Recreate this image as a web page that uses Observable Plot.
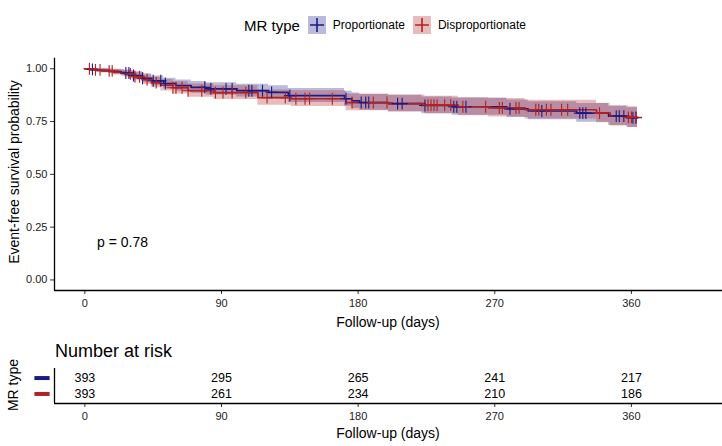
<!DOCTYPE html>
<html><head><meta charset="utf-8">
<script src="https://cdn.jsdelivr.net/npm/d3@7"></script>
<script src="https://cdn.jsdelivr.net/npm/@observablehq/plot@0.6"></script>
<style>
body{margin:0;background:#fff;font-family:"Liberation Sans",Arial,sans-serif;color:#000;}
#wrap{position:relative;width:722px;height:446px;overflow:hidden;background:#fff;}
.abs{position:absolute;white-space:nowrap;}
.c{transform:translate(-50%,-50%);}
.r{transform:translate(-50%,-50%) rotate(-90deg);}
#legend{position:absolute;left:244px;top:14px;display:flex;align-items:center;height:22px;}
.key{display:inline-block;margin-left:8px;margin-right:7px;}
</style></head><body><div id="wrap"></div>
<script>
const groups = ["Proportionate", "Disproportionate"];
const colors = ["#1a1a85", "#b22222"];

const propTime  = [0,3,8,16,24,31,38,44,52,60,70,80,100,121,134,171,176,181,200,222,242,278,292,324,345,357];
const propSurv  = [1,0.997,0.992,0.987,0.98,0.968,0.955,0.943,0.93,0.92,0.912,0.905,0.896,0.888,0.873,0.858,0.848,0.84,0.835,0.826,0.82,0.81,0.80,0.79,0.776,0.768];
const propLower = [1,0.991,0.983,0.976,0.966,0.950,0.934,0.920,0.905,0.893,0.884,0.876,0.866,0.857,0.840,0.823,0.812,0.803,0.797,0.787,0.780,0.769,0.758,0.747,0.731,0.722];
const propUpper = [1,1,1,0.998,0.994,0.986,0.976,0.966,0.955,0.947,0.940,0.934,0.927,0.920,0.907,0.894,0.885,0.878,0.874,0.866,0.861,0.852,0.844,0.835,0.822,0.815];
const propCensor = [5,27,29,32,38,45,50,53,79,83,93,97,108,110,117,123,135,172,182,185,187,206,209,224,243,245,251,280,301,326,328,330,350,352,355,361,363];

const dispTime  = [0,4,11,19,26,33,39,44,50,58,68,85,114,136,172,200,224,246,266,290,337,346,358];
const dispSurv  = [1,0.995,0.99,0.983,0.976,0.962,0.948,0.934,0.922,0.91,0.896,0.887,0.863,0.858,0.84,0.835,0.828,0.82,0.815,0.806,0.79,0.776,0.77];
const dispLower = [1,0.988,0.980,0.970,0.961,0.943,0.926,0.910,0.895,0.881,0.865,0.854,0.827,0.821,0.801,0.795,0.787,0.778,0.772,0.762,0.744,0.729,0.722];
const dispUpper = [1,1,1,0.996,0.991,0.981,0.970,0.959,0.949,0.939,0.928,0.920,0.900,0.896,0.881,0.876,0.870,0.863,0.859,0.851,0.837,0.825,0.820];
const dispCensor = [3,7,10,16,18,30,33,36,41,47,58,60,64,68,77,86,91,97,106,120,132,139,145,148,163,176,190,199,226,228,230,232,237,241,249,264,273,275,284,286,297,299,304,307,314,318,339,358,360,363];

const endTime = 364;
const riskTimes = [0, 90, 180, 270, 360];
const propRisk = [393, 295, 265, 241, 217];
const dispRisk = [393, 261, 234, 210, 186];
const xTicks = [0, 90, 180, 270, 360];
const yTicks = [0, 0.25, 0.5, 0.75, 1];
const xDomain = [-20, 420];
const yDomain = [-0.05, 1.05];
const pText = "p = 0.78";
const pAt = {t: 8, s: 0.177};

const series = [
  {group: groups[0], time: propTime, surv: propSurv, lo: propLower, hi: propUpper, cens: propCensor, risk: propRisk},
  {group: groups[1], time: dispTime, surv: dispSurv, lo: dispLower, hi: dispUpper, cens: dispCensor, risk: dispRisk}
];

const curveRows = [], censorRows = [], riskRows = [];
series.forEach((S, gi) => {
  S.time.forEach((t, i) => curveRows.push({group: S.group, t, s: S.surv[i], lo: S.lo[i], hi: S.hi[i]}));
  const last = S.time.length - 1;
  curveRows.push({group: S.group, t: endTime, s: S.surv[last], lo: S.lo[last], hi: S.hi[last]});
  S.cens.forEach(t => {
    let k = 0;
    for (let i = 0; i < S.time.length; i++) if (S.time[i] <= t) k = i;
    censorRows.push({group: S.group, t, s: S.surv[k]});
  });
  riskTimes.forEach((t, i) => riskRows.push({group: S.group, row: gi, t, n: S.risk[i]}));
});

// wide flat bar symbol for the risk-table strata keys
const barSymbol = {draw(ctx, size) { const r = Math.sqrt(size / Math.PI); ctx.rect(-1.9 * r, -0.5 * r, 3.8 * r, r); }};

const font = "Liberation Sans, Arial, sans-serif";
const wrap = document.getElementById("wrap");

const main = Plot.plot({
  width: 722, height: 340,
  marginLeft: 54, marginRight: 0, marginTop: 57.7, marginBottom: 50,
  style: {fontFamily: font, fontSize: "11px", color: "#222", background: "transparent"},
  x: {domain: xDomain},
  y: {domain: yDomain},
  color: {domain: groups, range: colors},
  marks: [
    Plot.areaY(curveRows, {x: "t", y1: "lo", y2: "hi", fill: "group", fillOpacity: 0.3, curve: "step-after"}),
    Plot.line(curveRows, {x: "t", y: "s", stroke: "group", strokeWidth: 1.7, curve: "step-after"}),
    Plot.dot(censorRows, {x: "t", y: "s", stroke: "group", symbol: "plus", r: 3.9, strokeWidth: 1.1}),
    Plot.text([pText], {x: pAt.t, y: pAt.s, text: d => d, textAnchor: "start", fontSize: 14, fill: "#000"}),
    Plot.axisX({ticks: xTicks, tickSize: 4, tickPadding: 5, label: null, stroke: "#333"}),
    Plot.axisY({ticks: yTicks, tickFormat: d3.format(".2f"), tickSize: 4, tickPadding: 3, label: null, stroke: "#333"}),
    Plot.ruleX([xDomain[0]], {stroke: "#000", strokeWidth: 1.3}),
    Plot.ruleY([yDomain[0]], {stroke: "#000", strokeWidth: 1.3})
  ]
});
main.style.position = "absolute"; main.style.left = "0px"; main.style.top = "0px";
wrap.appendChild(main);

const risk = Plot.plot({
  width: 722, height: 106,
  marginLeft: 54, marginRight: 0, marginTop: 28, marginBottom: 43,
  style: {fontFamily: font, fontSize: "11px", color: "#222", background: "transparent"},
  x: {domain: xDomain},
  y: {domain: [1.6, -0.6], axis: null},
  color: {domain: groups, range: colors},
  marks: [
    Plot.text(riskRows, {x: "t", y: "row", text: d => String(d.n), fontSize: 12.5, fill: "#000"}),
    Plot.dot(groups, {frameAnchor: "left", y: (d, i) => i, dx: -12.5, symbol: barSymbol, r: 4, fill: d => d, stroke: "none"}),
    Plot.axisX({ticks: xTicks, tickSize: 4, tickPadding: 5, label: null, stroke: "#333"}),
    Plot.ruleX([xDomain[0]], {stroke: "#000", strokeWidth: 1.3}),
    Plot.ruleY([1.6], {stroke: "#000", strokeWidth: 1.3})
  ]
});
risk.style.position = "absolute"; risk.style.left = "0px"; risk.style.top = "340px";
wrap.appendChild(risk);

function addText(txt, x, y, size, cls) {
  const d = document.createElement("div");
  d.className = "abs " + cls;
  d.style.left = x + "px"; d.style.top = y + "px";
  d.style.fontSize = size + "px"; d.style.lineHeight = "1";
  d.textContent = txt;
  wrap.appendChild(d);
}
addText("Event-free survival probability", 14, 172, 14, "r");
addText("Follow-up (days)", 388, 322, 14, "c");
addText("Follow-up (days)", 388, 433, 14, "c");
addText("MR type", 13, 385, 14, "r");
const nr = document.createElement("div");
nr.className = "abs"; nr.style.left = "55px"; nr.style.top = "342px"; nr.style.fontSize = "18px"; nr.style.lineHeight = "1";
nr.textContent = "Number at risk";
wrap.appendChild(nr);

// legend
const lg = document.createElement("div");
lg.id = "legend";
const lt = document.createElement("span");
lt.textContent = "MR type"; lt.style.fontSize = "15px";
lg.appendChild(lt);
groups.forEach((g, i) => {
  const svg = d3.create("svg").attr("width", 18).attr("height", 18).attr("class", "key");
  svg.append("rect").attr("width", 18).attr("height", 18).attr("fill", colors[i]).attr("fill-opacity", 0.3);
  svg.append("path").attr("d", "M2,9H16M9,2V16").attr("stroke", colors[i]).attr("stroke-width", 1.6);
  lg.appendChild(svg.node());
  const s = document.createElement("span");
  s.textContent = g; s.style.fontSize = "12px";
  lg.appendChild(s);
});
wrap.appendChild(lg);
</script></body></html>
